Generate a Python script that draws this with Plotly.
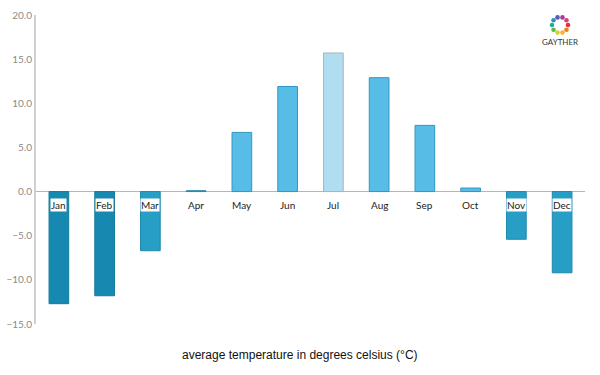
import plotly.graph_objects as go
import math

months = ["Jan", "Feb", "Mar", "Apr", "May", "Jun", "Jul", "Aug", "Sep", "Oct", "Nov", "Dec"]
temps = [-12.7, -11.8, -6.7, 0.1, 6.7, 11.9, 15.7, 12.9, 7.5, 0.4, -5.4, -9.2]
fill_colors = ["#1789b0", "#1789b0", "#279ec6", "#3a9fc0", "#57bde6", "#57bde6",
               "#b0def0", "#57bde6", "#57bde6", "#57bde6", "#279ec6", "#279ec6"]
line_colors = ["#157a9c", "#157a9c", "#1f88ad", "#2a86a8", "#2f97c2", "#2f97c2",
               "#a9b4ba", "#2f97c2", "#2f97c2", "#2f97c2", "#1f88ad", "#1f88ad"]
y_ticks = [-15, -10, -5, 0, 5, 10, 15, 20]
title_text = "average temperature in degrees celsius (°C)"

FONT = "Lato"
L, R, T, B = 36, 15, 15, 51
W, H = 600, 375
PW, PH = W - L - R, H - T - B


def px_x(x):
    return (x - L) / PW


def px_y(y):
    return (H - B - y) / PH


fig = go.Figure()
fig.add_trace(go.Bar(
    x=months, y=temps,
    marker=dict(color=fill_colors, line=dict(color=line_colors, width=1)),
    width=0.43,
    hoverinfo="x+y",
))

annotations = []
for m, t in zip(months, temps):
    annotations.append(dict(
        x=m, y=0, xref="x", yref="y", text=m, showarrow=False,
        yshift=-13, font=dict(family=FONT, size=10, color="#222"),
        bgcolor="white" if t < 0 else "rgba(0,0,0,0)", borderpad=0,
    ))
annotations.append(dict(
    x=px_x(300), y=px_y(355), xref="paper", yref="paper", text=title_text, showarrow=False,
    xanchor="center", yanchor="middle",
    font=dict(family="Liberation Sans, Arial", size=12, color="#111"),
))
annotations.append(dict(
    x=px_x(560), y=px_y(42), xref="paper", yref="paper", text="GAYTHER", showarrow=False,
    xanchor="center", yanchor="middle",
    font=dict(family="Lato", size=8, color="#333"),
))

fig.update_layout(
    width=W, height=H,
    margin=dict(l=L, r=R, t=T, b=B, autoexpand=False),
    paper_bgcolor="white", plot_bgcolor="white",
    showlegend=False,
    annotations=annotations,
    font=dict(family=FONT),
)

# logo ring of coloured dots (decoration)
ring_colors = ["#e8312f", "#f47b20", "#fbb040", "#c9d92e", "#5cb947", "#23a99e",
               "#2b8fd0", "#5b5bb5", "#a43f98", "#e0407b"]
cx, cy, r, d = 560, 25, 8, 2.3
for i, c in enumerate(ring_colors):
    a = 2 * math.pi * i / len(ring_colors)
    qx, qy = cx + r * math.cos(a), cy + r * math.sin(a)
    fig.add_shape(type="circle", xref="paper", yref="paper",
                  x0=px_x(qx - d), x1=px_x(qx + d),
                  y0=px_y(qy + d), y1=px_y(qy - d),
                  fillcolor=c, line=dict(width=0))

fig.update_xaxes(
    showticklabels=False, showgrid=False, showline=False, zeroline=False,
    range=[-0.5, 11.5], fixedrange=True, automargin=False,
)
fig.update_yaxes(
    range=[-15, 20], tickvals=y_ticks, tickformat=".1f", automargin=False,
    showgrid=False, zeroline=True, zerolinecolor="#b5b5b5", zerolinewidth=1,
    showline=True, linecolor="#d0d0d0", linewidth=2,
    tickfont=dict(family=FONT, size=10, color="#8a8a8a"),
    ticks="", ticklen=0,
)

fig.write_html("out.html", config={"displayModeBar": False},
               post_script="document.body.style.margin='0';")
